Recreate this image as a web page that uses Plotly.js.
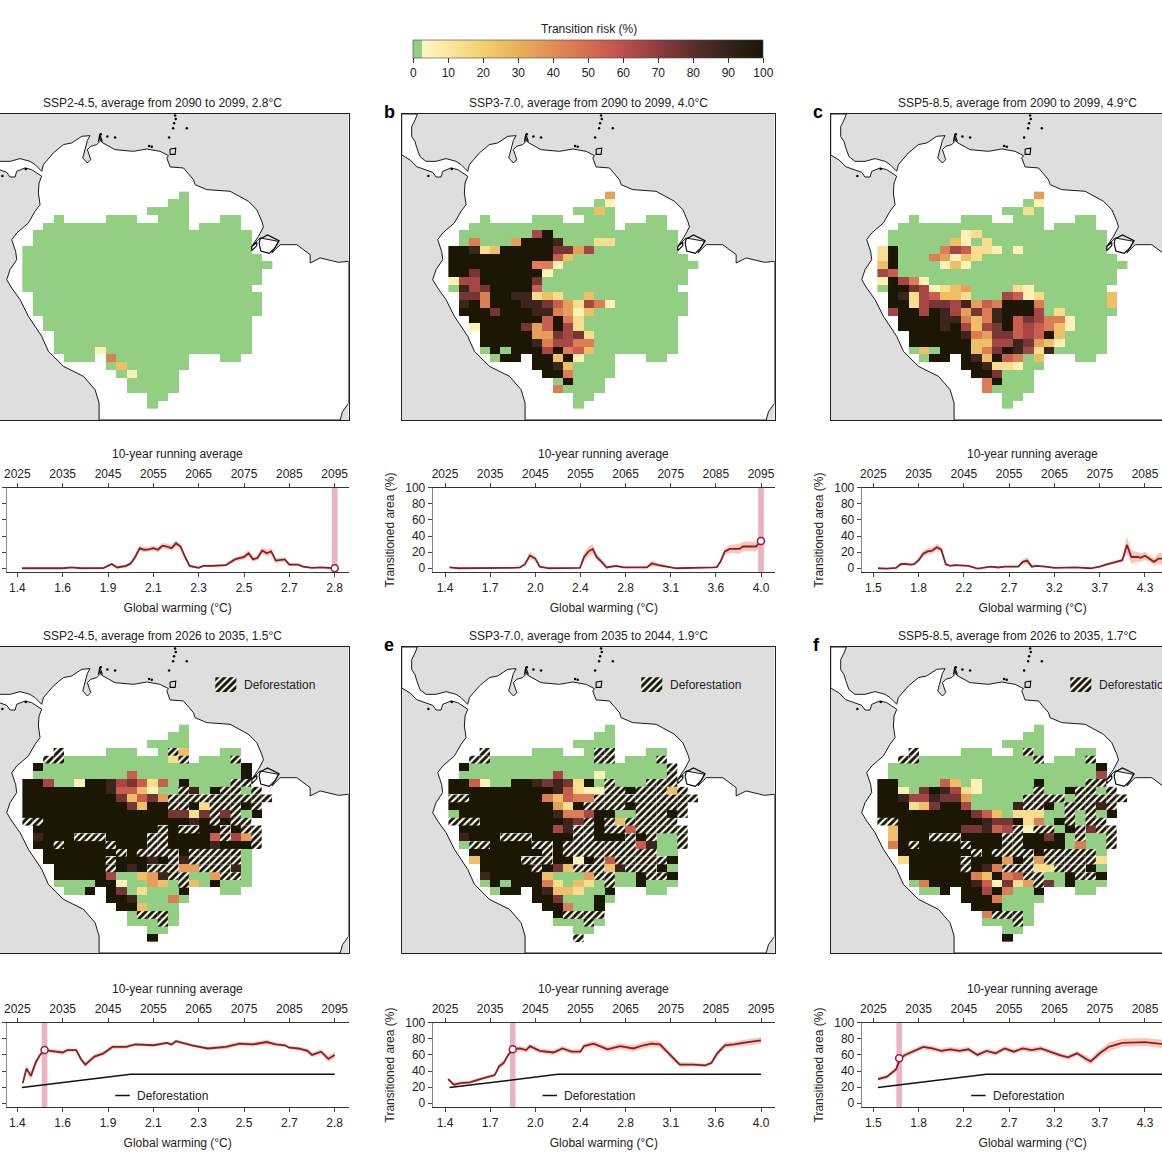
<!DOCTYPE html>
<html>
<head>
<meta charset="utf-8">
<script src="https://cdn.plot.ly/plotly-3.0.1.min.js"></script>
<style>html,body{margin:0;padding:0;background:#fff;overflow:hidden;width:1162px;height:1163px}#chart{position:absolute;left:-30px;top:0}</style>
</head>
<body>
<div id="chart"></div>
<script>
// ---------- labels ----------
const panelTitles = [
  'SSP2-4.5, average from 2090 to 2099, 2.8°C','SSP3-7.0, average from 2090 to 2099, 4.0°C','SSP5-8.5, average from 2090 to 2099, 4.9°C',
  'SSP2-4.5, average from 2026 to 2035, 1.5°C','SSP3-7.0, average from 2035 to 2044, 1.9°C','SSP5-8.5, average from 2026 to 2035, 1.7°C'];
const yearTicks = [2025,2035,2045,2055,2065,2075,2085,2095];
const warmingA = ['1.4','1.6','1.9','2.1','2.3','2.5','2.7','2.8'];
const warmingB = ['1.4','1.7','2.0','2.4','2.8','3.1','3.6','4.0'];
const warmingC = ['1.5','1.8','2.2','2.7','3.2','3.7','4.3'];
const riskTicks = [0,10,20,30,40,50,60,70,80,90,100];
// risk value for each grid character; H = deforestation hatch
const riskCode = {'0':1,'1':5,'2':14,'3':25,'4':35,'5':45,'6':55,'7':65,'8':75,'9':88,'X':100};

// ---------- transition-risk grids (rows north to south, 24 columns) ----------
const gridA = [
"...............0........","..............00........","............0000........","...0....000..000...00...",
"..00000000000000.0000...",".000000000000000000000..",".000000000000000000000..","0000000000000000000000..",
"00000000000000000000000.","000000000000000000000000","00000000000000000000000.","00000000000000000000000.",
"0000000000000000000000..",".0000000000000000000000.",".0000000000000000000000.",".0000000000000000000000.",
"..00000000000000000000..","..00000000000000000000..","...0000000000000000000..","...0000000000000000000..",
"...0000100000000000000..","....000.50000000...00...","........03000000........",".........010000.........",
"..........00000.........","..........00000.........","............00..........","............0..........."];
const gridB = [
"...............4........","..............01........","............0030........","...0....000..000...00...",
"..00000000000000.0000...",".00000007X000000000000..",".050004XXX900022000000..","XX923XXXXX884700000000..",
"XXXXXXXXXX6300000000000.","XXXXXXXX5510000000000000","XX8XXXXXX10000000000000.","177XXXXX800000000000000.",
"0978XXXX60000000000000..",".885XX99232003000000000.",".9X5XXX9986427510000000.",".XXX8XXX995413000000000.",
"..XXXXXXX6X52000000000..","..1XXXX846X72000000000..","...XXXXX44878200000000..","...XXXXX95775500000000..",
"...0X0XXX7X56300000000..","....0XX.XX3X1000...00...","........XX930000........",".........XX50000........",
"..........0X000.........","..........50000.........","............00..........","............0..........."];
const gridC = [
"...............4........","..............01........","............0020........","...0....000..000...00...",
"..00000000000000.0000...",".000000012000000000000..",".000000310200000000000..","2X00005762210100000000..",
"2X000541320000000000000.","3X0000131000000000000000","76000000000000000000000.","1X751000000000000000000.",
"0XX8712340000210000000..",".X927633200076120000003.",".XX278879465XXX50000003.",".7XX7X974859XXX70200000.",
"..XXXX995359X687551000..","..XXXX9X7378X676531000..","...XXXXX95488676X30000..","...XXXXXX3377984310000..",
"...030XXX358X972900000..","....0XX.X93X6503...00...","........XX922100........",".........XX8000.........",
"..........5X000.........","..........50000.........","............00..........","............0..........."];
const gridD = [
"...............0........","..............00........","............0000........","...H....000..0H3...00...",
"..HH00000000002H.000H...",".X0000000000000000000X..",".00000000060000000000X..","XX7001XX9786260X0000HH..",
"XXXXXXXX9663100H90XHH0H.","XXXXXXXXX83684HHHHHHHHHH","XXXXXXXXXX83XXHHX2HHHXH.","XXXXXXXXXXXXXX8828H8H0X.",
"HHXXXXXXXXXXXXXX9XHXHH..",".XXXXXXXXXXXXHXHHXXHXHH.",".9XXXHHHXXXXHHXXXX6H74H.",".XXHXXXXHXXXHHXXXX9XXXH.",
"..XXXXXXXHXHHHHXHHHHH0..","..XXXXXXHXXX9XH9HHHHH0..","...XXXXXHX9XHHH44HHH90..","...XXXXX700349HH004HH0..",
"...0000XX100430H30X000..","....00X.X802000X...00...","........XX900050........",".........XX3000.........",
"..........0HHH0.........","..........000H0.........","............00..........","............X..........."];
const gridE = [
"...............0........","..............00........","............0000........","...H....000..0HH...00...",
"..HH0000000000HH.000H...",".X0000000000000000000H..",".00000000070001000000H..","XX6100XX98982X0H000HHH..",
"XXXXXXXXXX96211HHXHHH3H.","HHXXXXXXX53655HHHHHHHHHH","XXXXXXXXXX42XHHHHXHHHHH.","0XXXXXXXXX9557XX00HHHXH.",
"HHHXXXXXXXX98HXH3HHHHH..",".XXXXXXXXX79HHXHH6HHHHH.",".9XXXHHHXXXXHHXXXHXH00H.",".0HHXXXXHHXHHHHHHH6900H.",
"..XXXXXXXHXHHHHHHHHH00..","..3XXXXHHHXX1XH6HHHHHX..","...XXXXXHX83HHH39HHHX0..","...9XXXXX30004HH00XHHX..",
"...0X0XXX520320H00X000..","....0XX.X933200X...00...","........XX8000X0........",".........XX500X.........",
"..........XHHHH.........","..........000H0.........","............00..........","............H..........."];
const gridF = [
"...............0........","..............00........","............0000........","...H....000..0H0...00...",
"..HH00000000000H.000H...",".00000000000000000000X..",".000000000000000000007..","XX0000630100000X0000HH..",
"XX108X972100000H00XHH0H.","XX977988400000HHHH0HHHHH","XXX238XX700009HHX0HHH9H.","XXXXXXXXX863022200H0H0X.",
"HHXXXXXXXX988X250XH0HH..",".3XXXXXX88967H1HH0XH8HH.",".3XXXHHHXXXXHHXX8X0H00H.",".5XHXXXXHXXXHHXXXX0500H.",
"..XXXXXXXHXHHHHXHHHHH0..","..2XXXXXHXXX4XH4HHHHH2..","...XXXXXHX95HHH22HHHX0..","...XXXXXX53X56HH00XHHX..",
"...05XXXX961824H80X000..","....00X.XX7X500X...00...","........XXX50000........",".........XXX000.........",
"..........5HHH0.........","..........000H0.........","............00..........","............X..........."];
const grids = [gridA,gridB,gridC,gridD,gridE,gridF];
const gridWestLon = -79.4, gridNorthLat = 5.643, cellLon = 1.248, cellLat = 0.832;

// ---------- coastline, lon/lat ----------
const coastLon = [-85,-83.12,-83.4,-83.8,-83.8,-83.4,-83.2,-82.8,-82.08,-80.88,-79.68,-78.48,-77.88,-77.08,-76.88,-75.68,-74.48,-73.48,-72.28,-71.28,-71.6,-71.88,-72.16,-71.6,-71.2,-71.6,-71.2,-70.48,-70.08,-70.16,-69.88,-68.28,-66.08,-64.48,-62.88,-61.88,-62.08,-61.68,-60.08,-58.88,-58.68,-57.28,-54.48,-52.28,-51.28,-50.68,-50.48,-51.08,-51.88,-50.88,-48.68,-49.48,-48.48,-46.48,-44.88,-44.88,-43.68,-41.48,-40.28,-40.28,-41,-41.28,-70.2,-70.2,-70.68,-72.08,-74.48,-76.28,-77.08,-78.68,-79.68,-80.68,-81.28,-80.88,-80.08,-80.2,-80.68,-80.08,-78.68,-77.88,-77.28,-77.48,-77.4,-77.08,-78.28,-79.08,-80.08,-80.28,-80.88,-81.28,-82.08,-83.2,-84,-85,-85];
const coastLat = [13.96,13.96,13.32,12.61,11.54,11,10.36,9.39,8.89,8.89,9.18,8.89,8.54,7.82,8.54,9.79,10.68,10.86,11.57,11.64,11.14,10.32,9.25,8.71,9.07,10.14,10.5,10.68,11.04,11.5,10.93,10.14,9.96,10.21,9.96,9.5,9.25,8.29,8.18,6.93,6.39,5.86,5.68,4.61,3.71,2.46,1.86,0.86,-0.21,0.68,0.32,-0.93,-0.04,-0.04,-1.11,-2,-1.46,-1.93,-1.82,-17.04,-17.93,-18.82,-18.82,-17,-15.57,-14.14,-13.07,-11.46,-9.86,-7.71,-5.93,-4.68,-3.79,-2.71,-1.64,-0.79,0.5,1.21,2.29,3.54,4.25,5.5,6.57,7.29,8,8.18,7.82,7.21,7.21,7.71,8,8.32,9.04,9.57,13.96];
const islandLon = [-50.88,-50,-48.6,-49.08,-49.8,-50.8,-51,-50.88,null,-51.28,-51.88,-51.88,-51.28,-51.28,null,-61.68,-61,-61.08,-61.68,-61.68,null,-70.28,-70.12,-69.8];
const islandLat = [0.57,1,0.39,-0.36,-0.96,-0.71,0.11,0.57,null,0.21,-0.25,-0.68,-0.14,0.21,null,10.21,10.29,9.64,9.64,10.21,null,11,11.79,11];
const isletLon = [-61.08,-61,-61.2,-61.32,-59.68,-61.8,-70,-69.2,-68.28,-64.2,-63.88,-81.8,-79];
const isletLat = [13.79,13.43,12.96,12.43,12.43,11.43,11.79,11.54,11.43,10.54,10.46,7.32,8.07];

// ---------- transitioned area: [year, mean %, half-width of shading] ----------
const seriesA = [[2026,0,.5],[2030,0,.5],[2035,0,.5],[2037,1,.6],[2039,0,.5],[2044,.3,.6],[2045.8,5.4,1.5],[2047,1,1.5],[2049,3,2],[2050,6,2.5],[2051,14,3],[2052,25,3],[2053,23,3],[2054,23.5,3],[2055,25,3],[2056,23,3],[2057,28,3.5],[2058,27,3.5],[2059,25,3.5],[2060,31,4],[2061,27,3.5],[2062,14,3],[2063,3,2],[2065,.5,1],[2066,3,1.5],[2068,3,1.5],[2070,3.5,1.5],[2071,4,1.5],[2073,11,2.5],[2075,14,3],[2076,18.6,4],[2077,11,3],[2078,13,3],[2079,22,4],[2080,18.6,4],[2081,21,4],[2082,9.5,3],[2084,11,2.5],[2085,4.5,2],[2087,4.5,1.5],[2088,2,1],[2090,.5,.8],[2092,1,.8],[2095,0,.5]];
const seriesB = [[2026,1,.6],[2028,0,.4],[2040,.5,.5],[2041.6,1,1],[2042.7,5,2],[2043.8,16,4],[2045,12,3],[2046,2,1.5],[2048,0,.5],[2054.9,.5,1],[2055.8,14,5],[2056.8,21,6],[2057.7,24,6],[2058.6,14,4],[2059.7,8,3],[2060.8,1,1.5],[2062.9,3,1.5],[2064.5,1,1],[2069.7,1,1],[2070.8,6,4],[2072.3,4,2],[2073.4,3,2],[2074.9,1,1],[2076.3,0,.5],[2084.5,1,.8],[2085.2,1.5,1],[2086,8,2],[2087,21,4],[2088.1,24,5],[2090.2,24,6],[2091,27,6],[2093.9,27,6],[2095,34,7]];
const seriesC = [[2026,0,.5],[2028,-.5,.5],[2030,.5,.8],[2031,5,1.5],[2032,5.5,2],[2033.3,4.5,1.5],[2034,5,1.5],[2035,10,2.5],[2036,18,4],[2037,21,4],[2038,22,4],[2039,26,4],[2040,23,3.5],[2041,5,2],[2042,3,1],[2043,4,1],[2046,3,1],[2048,-.5,.5],[2051,2,1],[2052.6,1,.8],[2054,2,1],[2057,2,1],[2058,8,3.5],[2059,9.5,4],[2060,2,1.5],[2061,3,1],[2063,2,1],[2065,.5,.5],[2069.6,1,.5],[2073,0,.5],[2075,2,1],[2076,4,1.5],[2078,7,1.5],[2080,10,2],[2081,29,10],[2082,14,8],[2083.5,14,6],[2084,13,5],[2085,15.5,5],[2087,8,4],[2088,12,7],[2090,12,8],[2095,11,8]];
const seriesD = [[2026.2,25,3],[2027,43,4],[2028,34,5],[2029,50,4],[2030,60,3],[2031,66,2.5],[2035,63,2.5],[2036,66,2],[2038,66,2],[2039,55,3],[2040,48,3],[2041,53,3],[2042,58,2.5],[2044,62,2.5],[2046,70,2.5],[2049,70,2],[2051,73,2],[2055,72,2],[2058,75,2],[2059,73,2],[2060,77,2],[2063.5,72,2],[2067,68,2],[2071,70,2.5],[2074,74,2.5],[2077,73,2.5],[2080,76,3],[2082,73,2.5],[2084,72,2],[2085,69,2],[2087,68,2],[2089,65,3],[2090,60,3],[2092,64,3],[2093.6,55,4],[2095,60,4]];
const seriesE = [[2025.7,30,2],[2027,23,2],[2028.3,25,2],[2030.5,26,2],[2032.8,30,2],[2034,32,2],[2036,35,2],[2037,46,3],[2038,50,3],[2039,60,3],[2040,67,3],[2041.6,68,3],[2043,66,3],[2043.8,71,3],[2046,65,3],[2049,63,3],[2051,68,3],[2053,64,3],[2055,64,3],[2055.8,71,3],[2057.9,74,3.5],[2059.7,70,3.5],[2061,67,3.5],[2063.8,71,3.5],[2066.7,68,4],[2069,72,4],[2070.8,74,4],[2072.6,73,4],[2074.9,60,4],[2077,48,3],[2080,48,2.5],[2082.6,47,2],[2084,50,2.5],[2085.3,62,3.5],[2087,72,3.5],[2089,73,3.5],[2091,75,3.5],[2095,78,4]];
const seriesF = [[2026,30,2],[2028,33,2.5],[2030,42,3],[2031,56,3],[2032,60,3],[2034,65,3],[2036,70,3],[2038,68,3],[2040,65,3],[2042,67,3],[2044,65,3],[2046,67,3],[2048,60,3],[2050,65,3],[2052,62,3],[2054,68,3],[2056,64,3],[2058,68,3],[2060,66,3],[2062,68,3],[2064,64,3],[2066,60,3],[2068,57,3],[2070,62,3],[2072,55,4],[2073,52,4],[2075,62,4],[2077,70,5],[2080,75,5],[2085,76,5],[2088,74,5],[2095,72,5]];
const allSeries = [seriesA,seriesB,seriesC,seriesD,seriesE,seriesF];
const deforestationYears = [2026,2050,2095];
const deforestationArea = [19.5,36,36];
const markerYear = [2095,2095,2095,2031,2040,2030.7];
const markerValue = [0,34,11,66,67,56];
const warmingLabels = [warmingA,warmingB,warmingC,warmingA,warmingB,warmingC];

// ---------- page geometry (pixels of the picture) ----------
const shift = 30, W = 1242, H = 1163;
const FONT = 'Liberation Sans, Arial, sans-serif', TXT = '#222222', FS = 12;
const mapLeft = [-24.3,401.7,830.7,-24.3,401.7,830.7], mapW = 372.8;
const mapTop = [114,114,114,647,647,647], mapH = 306;
const lineLeft = [6.7,432.7,861.7,6.7,432.7,861.7], lineRight = [348.7,775,1203.7,348.7,775,1203.7];
const lineTop = [487.7,487.7,487.7,1022.7,1022.7,1022.7], lineH = 84.6;
const yearRange = [[2022.65,2098.09],[2022.27,2098.1],[2022.42,2097.97],[2022.65,2098.09],[2022.27,2098.1],[2022.42,2097.97]];
const px = x => (x+shift)/W, py = y => 1-y/H;

const colorscale = [[0,'#93cf82'],[0.025,'#93cf82'],[0.0251,'#fef6c0'],[0.1,'#fbe7a0'],[0.2,'#f2d06f'],[0.3,'#e9b05a'],[0.4,'#e28d55'],[0.5,'#d76c50'],[0.6,'#bd504c'],[0.7,'#8f3d40'],[0.8,'#5b2e2a'],[0.9,'#342319'],[1,'#1b1704']];
const landPath = coastLon.map((v,i)=>(i?'L':'M')+v+','+coastLat[i]).join(' ')+' Z';
const fnt = {family:FONT,size:FS,color:TXT};

const traces = [];
const layout = {
  width:W, height:H, margin:{l:0,r:0,t:0,b:0}, paper_bgcolor:'#fff', plot_bgcolor:'rgba(0,0,0,0)',
  showlegend:false, barmode:'overlay', font:fnt, hovermode:false,
  shapes:[], annotations:[{xref:'paper',yref:'paper',x:px(588.5),y:py(29),yanchor:'middle',text:'Transition risk (%)',showarrow:false,font:fnt}],
  coloraxis:{cmin:0,cmax:100,colorscale:colorscale,colorbar:{
    orientation:'h', lenmode:'pixels', len:350.4, thicknessmode:'pixels', thickness:17.7,
    x:px(413.3), xanchor:'left', y:py(40), yanchor:'top', xpad:0, ypad:0,
    tickmode:'array', tickvals:riskTicks, ticks:'outside', ticklen:5, tickwidth:1, tickcolor:'#333',
    outlinewidth:0.6, outlinecolor:'#444', tickfont:fnt
  }}
};

grids.forEach((grid,p)=>{
  const n = p+1, xa='x'+n, ya='y'+n;
  layout['xaxis'+n] = {domain:[px(mapLeft[p]),px(mapLeft[p]+mapW)], range:[-85,-40.28], anchor:ya, showgrid:false, zeroline:false, showticklabels:false, ticks:'', showline:true, mirror:true, linecolor:'#222', linewidth:1};
  layout['yaxis'+n] = {domain:[py(mapTop[p]+mapH),py(mapTop[p])], range:[-18.82,13.96], anchor:xa, showgrid:false, zeroline:false, showticklabels:false, ticks:'', showline:true, mirror:true, linecolor:'#222', linewidth:1};
  layout.shapes.push({type:'rect',xref:xa+' domain',yref:ya+' domain',x0:0,x1:1,y0:0,y1:1,fillcolor:'#dedede',line:{width:0},layer:'below'});
  layout.shapes.push({type:'path',xref:xa,yref:ya,path:landPath,fillcolor:'#ffffff',line:{width:0},layer:'below'});
  const lons = grid[0].split('').map((_,k)=>gridWestLon+cellLon*(k+.5));
  const lats = grid.map((_,r)=>gridNorthLat-cellLat*(r+.5));
  const z = grid.map(row=>row.split('').map(c=>c in riskCode?riskCode[c]:null));
  traces.push({type:'heatmap',x:lons,y:lats,z:z,coloraxis:'coloraxis',xaxis:xa,yaxis:ya,hoverinfo:'skip',zsmooth:false});
  const hx=[],hb=[];
  grid.forEach((row,r)=>row.split('').forEach((c,k)=>{ if(c==='H'){hx.push(lons[k]);hb.push(lats[r]-cellLat/2);} }));
  const pat = {shape:'/',bgcolor:'#14120a',fgcolor:'#fdfbe9',size:5,solidity:0.42};
  if(hx.length){
    traces.push({type:'bar',x:hx,y:hx.map(()=>cellLat),base:hb,width:cellLon,marker:{pattern:pat,line:{width:0}},xaxis:xa,yaxis:ya,hoverinfo:'skip'});
    traces.push({type:'bar',x:[-55],y:[1.57],base:[9.14],width:2.52,marker:{pattern:pat,line:{width:0}},xaxis:xa,yaxis:ya,hoverinfo:'skip'});
    layout.annotations.push({xref:xa,yref:ya,x:-53,y:9.9,text:'Deforestation',showarrow:false,xanchor:'left',yanchor:'middle',font:fnt});
  }
  traces.push({type:'scatter',mode:'lines',x:coastLon,y:coastLat,line:{color:'#000',width:0.9},xaxis:xa,yaxis:ya,hoverinfo:'skip'});
  traces.push({type:'scatter',mode:'lines',x:islandLon,y:islandLat,line:{color:'#000',width:1.1},xaxis:xa,yaxis:ya,hoverinfo:'skip'});
  traces.push({type:'scatter',mode:'markers',x:isletLon,y:isletLat,marker:{color:'#000',size:2.5},xaxis:xa,yaxis:ya,hoverinfo:'skip'});
  layout.annotations.push({xref:xa+' domain',yref:ya+' domain',x:.5,y:1,yanchor:'bottom',yshift:2,text:panelTitles[p],showarrow:false,font:fnt});
});

allSeries.forEach((s,p)=>{
  const b=7+p, t=13+p, xb='x'+b, yb='y'+b, xt='x'+t;
  const labels = warmingLabels[p], vals = yearTicks.slice(0,labels.length);
  const base = {range:yearRange[p],domain:[px(lineLeft[p]),px(lineRight[p])],anchor:yb,showgrid:false,zeroline:false,showline:true,linecolor:'#333',linewidth:1,ticks:'outside',ticklen:4,tickwidth:1,tickcolor:'#444',tickmode:'array',tickvals:vals,tickfont:fnt};
  layout['xaxis'+b] = Object.assign({},base,{side:'bottom',ticktext:labels,title:{text:'Global warming (°C)',standoff:9,font:fnt}});
  layout['xaxis'+t] = Object.assign({},base,{side:'top',overlaying:xb,ticktext:vals.map(String)});
  const edgePanel = p%3===0;
  layout['yaxis'+b] = {domain:[py(lineTop[p]+lineH),py(lineTop[p])],range:[-5,100],anchor:xb,showgrid:false,zeroline:false,showline:true,linecolor:'#888',linewidth:1,ticks:'outside',ticklen:4,tickwidth:1,tickcolor:'#444',tickmode:'array',tickvals:[0,20,40,60,80,100],tickfont:fnt,showticklabels:!edgePanel,title:edgePanel?undefined:{text:'Transitioned area (%)',standoff:8,font:fnt}};
  traces.push({type:'bar',x:[markerYear[p]],y:[105],base:[-5],width:1.25,marker:{color:'#e8b4c4',line:{width:0}},xaxis:xb,yaxis:yb,hoverinfo:'skip'});
  const yrs=s.map(d=>d[0]), mean=s.map(d=>d[1]), up=s.map(d=>d[1]+d[2]), lo=s.map(d=>d[1]-d[2]);
  traces.push({type:'scatter',mode:'lines',x:yrs.concat(yrs.slice().reverse()),y:up.concat(lo.slice().reverse()),fill:'toself',fillcolor:'rgba(245,165,130,0.62)',line:{width:0},xaxis:xt,yaxis:yb,hoverinfo:'skip'});
  if(p>=3){
    traces.push({type:'scatter',mode:'lines',x:deforestationYears,y:deforestationArea,line:{color:'#111',width:1.5},xaxis:xt,yaxis:yb,hoverinfo:'skip'});
    traces.push({type:'scatter',mode:'lines',x:[2046.6,2049.8],y:[9.5,9.5],line:{color:'#111',width:1.5},xaxis:xt,yaxis:yb,hoverinfo:'skip'});
    layout.annotations.push({xref:xt,yref:yb,x:2051,y:9.5,text:'Deforestation',showarrow:false,xanchor:'left',yanchor:'middle',font:fnt});
  }
  traces.push({type:'scatter',mode:'lines',x:yrs,y:mean,line:{color:'#8c1c2c',width:1.8},xaxis:xt,yaxis:yb,hoverinfo:'skip'});
  traces.push({type:'scatter',mode:'markers',x:[markerYear[p]],y:[markerValue[p]],marker:{color:'#fff',size:7,line:{color:'#9b1b3b',width:1.5}},xaxis:xt,yaxis:yb,hoverinfo:'skip',cliponaxis:false});
  layout.annotations.push({xref:xb+' domain',yref:yb+' domain',x:.5,y:1,yanchor:'bottom',yshift:25,text:'10-year running average',showarrow:false,font:fnt});
});

[['b',382,112],['c',811,112],['e',382,645],['f',811,645]].forEach(l=>{
  layout.annotations.push({xref:'paper',yref:'paper',x:px(l[1]),y:py(l[2]),xanchor:'left',yanchor:'middle',text:'<b>'+l[0]+'</b>',showarrow:false,font:{family:FONT,size:18,color:'#000'}});
});

Plotly.newPlot('chart',traces,layout,{staticPlot:true,displayModeBar:false});
</script>
</body>
</html>
